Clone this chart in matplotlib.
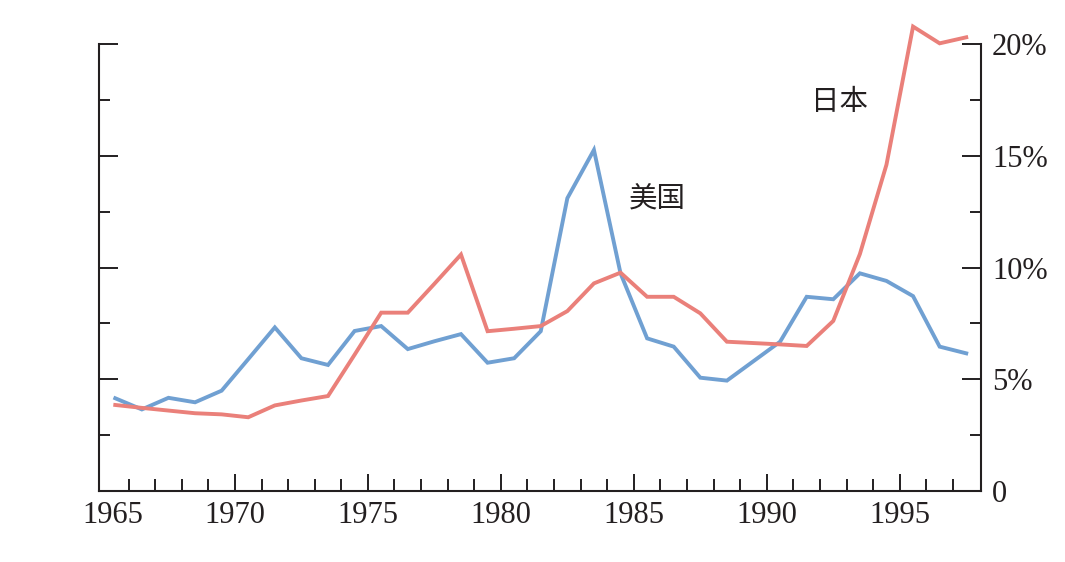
import matplotlib
matplotlib.use("Agg")
import matplotlib.pyplot as plt
from matplotlib.ticker import FixedLocator

years = list(range(1965, 1998))
us = [4.15, 3.65, 4.17, 3.97, 4.49, 5.9, 7.32, 5.94, 5.64, 7.16, 7.38, 6.35, 6.7,
      7.02, 5.74, 5.94, 7.15, 13.1, 15.26, 9.74, 6.83, 6.46, 5.07, 4.94, 5.81,
      6.68, 8.69, 8.58, 9.74, 9.4, 8.72, 6.46, 6.16]
japan = [3.85, 3.72, 3.6, 3.48, 3.43, 3.3, 3.83, 4.05, 4.25, 6.1, 7.98, 7.98, 9.27,
         10.58, 7.15, 7.26, 7.38, 8.05, 9.29, 9.77, 8.69, 8.69, 7.95, 6.68, 6.62,
         6.56, 6.49, 7.61, 10.6, 14.6, 20.78, 20.03, 20.3]
xlabels = ["1965", "1970", "1975", "1980", "1985", "1990", "1995"]
ylabels = ["0", "5%", "10%", "15%", "20%"]
series_names = ["美国", "日本"]

blue = "#70A0D2"
red = "#EA807A"
ink = "#231f20"

plt.rcParams['font.family'] = ['Liberation Serif', 'DejaVu Serif']

fig = plt.figure(figsize=(10.65, 5.62), dpi=100)
ax = fig.add_axes([0.093, 0.1263, 0.828, 0.7954])

xs = [y + 0.5 for y in years]
ax.plot(xs, us, color=blue, lw=2.8, clip_on=False, solid_joinstyle='miter')
ax.plot(xs, japan, color=red, lw=2.8, clip_on=False, solid_joinstyle='miter')

ax.set_xlim(1964.89, 1998.05)
ax.set_ylim(0, 20)

for s in ["left", "right", "bottom"]:
    ax.spines[s].set_color(ink)
    ax.spines[s].set_linewidth(1.5)
ax.spines["top"].set_visible(False)

# x axis
major_x = [1965.4] + list(range(1970, 1996, 5))
ax.xaxis.set_major_locator(FixedLocator(major_x))
ax.set_xticklabels(xlabels)
ax.xaxis.set_minor_locator(FixedLocator([y for y in range(1966, 1998) if y % 5 != 0]))
ax.tick_params(axis='x', which='major', direction='in', length=12.5, width=1.4,
               color=ink, labelsize=22, pad=7.5, labelcolor=ink)
ax.tick_params(axis='x', which='minor', direction='in', length=8.5, width=1.4, color=ink)
ax.xaxis.get_major_ticks()[0].tick1line.set_visible(False)

# y axis
ax.yaxis.set_major_locator(FixedLocator([0, 5, 10, 15, 20]))
ax.set_yticklabels(ylabels)
ax.yaxis.set_minor_locator(FixedLocator([2.5, 7.5, 12.5, 17.5]))
ax.tick_params(axis='y', which='both', left=True, right=True, labelleft=False,
               labelright=True, direction='in', color=ink, width=1.4)
ax.tick_params(axis='y', which='major', length=13.5, labelsize=22, pad=8, labelcolor=ink)
ax.tick_params(axis='y', which='minor', length=8)
for lab in ax.get_yticklabels():
    lab.set_horizontalalignment('left')

cjk = ['Noto Sans CJK SC', 'DejaVu Sans']
ax.text(1985.9, 13.1, series_names[0], family=cjk, fontsize=20.5, color=ink,
        ha='center', va='center')
ax.text(1992.75, 17.4, series_names[1], family=cjk, fontsize=20.5, color=ink,
        ha='center', va='center')

fig.savefig("out.png", dpi=100)
